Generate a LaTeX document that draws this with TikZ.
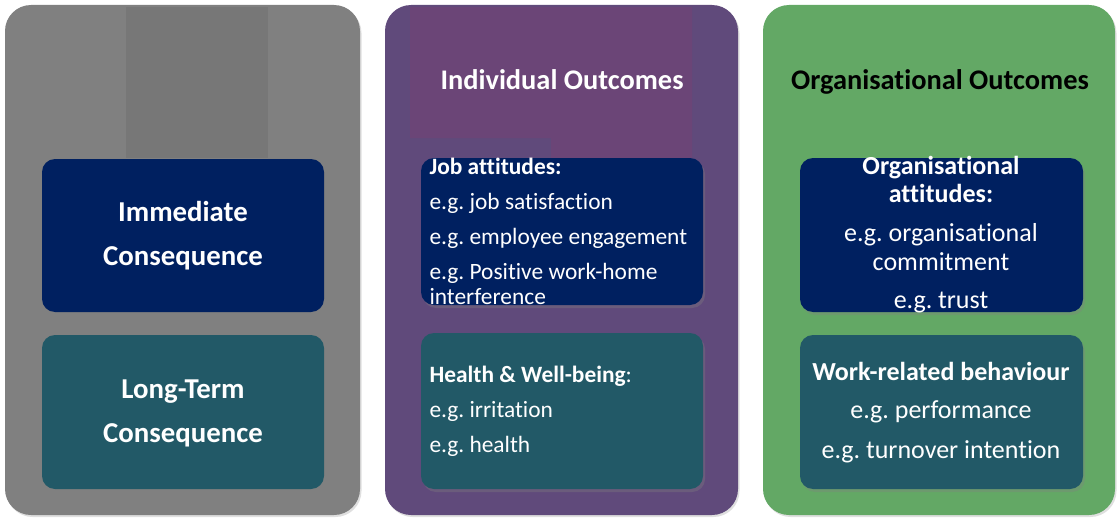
\documentclass[tikz,border=0pt]{standalone}
\usepackage{fontspec}
\setmainfont{Carlito}[Ligatures=NoCommon]
\usepackage{tikz}
\usetikzlibrary{shadows}
\frenchspacing

\definecolor{greycol}{HTML}{808080}
\definecolor{greypatch}{HTML}{777777}
\definecolor{purplecol}{HTML}{604A7B}
\definecolor{purplepatch}{HTML}{6B4577}
\definecolor{greencol}{HTML}{63A865}
\definecolor{bluebox}{HTML}{002060}
\definecolor{tealbox}{HTML}{225967}

\tikzset{
	column/.style={rounded corners=26pt,drop shadow={opacity=0.25,shadow xshift=1.5pt,shadow yshift=-2pt}},
	inbox/.style={rounded corners=13pt,drop shadow={opacity=0.35,shadow xshift=2pt,shadow yshift=-3pt}},
	headtext/.style={font=\fontsize{28.4}{34}\selectfont\bfseries,anchor=base},
	bigtext/.style={font=\fontsize{28.8}{44}\selectfont\bfseries,text=white,align=center,anchor=base},
	bodytext/.style={font=\fontsize{23.4}{35}\selectfont,text=white,anchor=base},
	orgtext/.style={font=\fontsize{26}{35}\selectfont,text=white,anchor=base,align=center},
}

\begin{document}
\begin{tikzpicture}[x=1pt,y=-1pt]
	\useasboundingbox (0,0) rectangle (1117,519);
	
	\fill[column,greycol] (5,5) rectangle (360,515);
	\fill[column,purplecol] (385,5) rectangle (738,515);
	\fill[column,greencol] (763,5) rectangle (1115,515);
	
	\fill[greypatch] (126,7) rectangle (268,158);
	\fill[purplepatch] (410,7)--(692,7)--(692,158)--(551,158)--(551,138)--(410,138)--cycle;
	
	\fill[inbox,bluebox] (42,159) rectangle (324,312);
	\fill[inbox,tealbox] (42,335) rectangle (324,489);
	\fill[inbox,bluebox] (421,158) rectangle (703,305);
	\fill[inbox,tealbox] (421,333) rectangle (703,489);
	\fill[inbox,bluebox] (800,158) rectangle (1083,312);
	\fill[inbox,tealbox] (800,335) rectangle (1083,489);
	
	\node[headtext,text=white] (indiv) at (562,90) {Individual Outcomes};
	\node[headtext,text=black] (organ) at (940,90) {Organisational Outcomes};
	
	\node[bigtext] (immed) at (183,265) {Immediate\\Consequence};
	\node[bigtext] (longt) at (183,442) {Long-Term\\Consequence};
	
	\node[bodytext,anchor=base west,align=left] (jobatt) at (426,304)
		{{\bfseries Job attitudes:}\\e.g. job satisfaction\\e.g. employee engagement\\e.g. Positive work-home\\[-10pt]interference};
	\node[bodytext,anchor=base west,align=left] (health) at (426,452)
		{{\bfseries Health \& Well-being}:\\e.g. irritation\\e.g. health};
	\node[orgtext] (orgatt) at (941,308)
		{{\bfseries Organisational}\\[-7pt]{\bfseries attitudes:}\\[4pt]e.g. organisational\\[-6pt]commitment\\[3pt]e.g. trust};
	\node[orgtext] (workrel) at (941,458)
		{{\bfseries Work-related behaviour}\\[3pt]e.g. performance\\[5pt]e.g. turnover intention};
\end{tikzpicture}
\end{document}
